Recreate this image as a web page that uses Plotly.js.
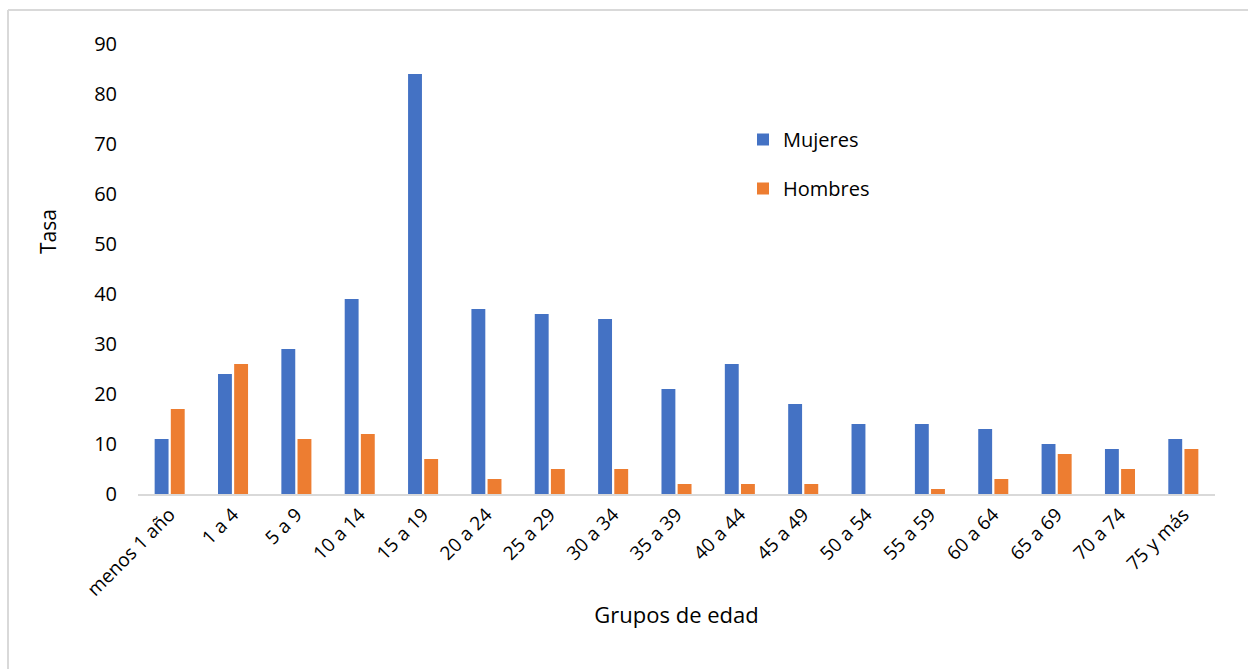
<!DOCTYPE html>
<html>
<head>
<meta charset="utf-8">
<script src="https://cdn.plot.ly/plotly-3.0.1.min.js"></script>
<style>
html,body{margin:0;padding:0;background:#fff;}
#chart{width:1248px;height:669px;}
</style>
</head>
<body>
<div id="chart"></div>
<script>
const categories = ["menos 1 año","1 a 4","5 a 9","10 a 14","15 a 19","20 a 24","25 a 29","30 a 34","35 a 39","40 a 44","45 a 49","50 a 54","55 a 59","60 a 64","65 a 69","70 a 74","75 y más"];
const mujeres = [11,24,29,39,84,37,36,35,21,26,18,14,14,13,10,9,11];
const hombres = [17,26,11,12,7,3,5,5,2,2,2,0,1,3,8,5,9];
const yTicks = [0,10,20,30,40,50,60,70,80,90];

const font = "Open Sans, Noto Sans, sans-serif";
const plotL = 138, plotR = 1215, plotT = 44, plotB = 494;
const W = 1248, H = 669;
const pw = plotR - plotL, ph = plotB - plotT;

const traces = [
  {type:"bar", name:"Mujeres", x:categories, y:mujeres, marker:{color:"#4472C4"}, legendgroup:"m"},
  {type:"bar", name:"Hombres", x:categories, y:hombres, marker:{color:"#ED7D31"}, legendgroup:"h"}
];

const layout = {
  width: W, height: H,
  margin: {l: plotL, r: W - plotR, t: plotT, b: H - plotB},
  paper_bgcolor: "#fff", plot_bgcolor: "#fff",
  font: {family: font, size: 18, color: "#000"},
  barmode: "group", bargap: 0.49, bargroupgap: 0.14,
  showlegend: true,
  legend: {x: (743 - plotL)/pw, y: (plotB - 120)/ph, xanchor: "left", yanchor: "top",
           font: {family: font, size: 20, color: "#000"}, tracegroupgap: 20,
           bgcolor: "rgba(0,0,0,0)", itemwidth: 30},
  xaxis: {type: "category", showgrid: false, showline: true, linecolor: "#d9d9d9", linewidth: 2,
          ticks: "", tickangle: -45, tickfont: {family: font, size: 19, color: "#000"},
          title: {text: "Grupos de edad", font: {family: font, size: 22, color: "#000"}, standoff: 7},
          zeroline: false, fixedrange: true},
  yaxis: {range: [0, 90], tickvals: yTicks, ticktext: yTicks.map(String), showgrid: false, showline: false,
          zeroline: false, ticks: "", ticklabelstandoff: 20,
          tickfont: {family: font, size: 20, color: "#000"}, fixedrange: true},
  annotations: [
    {text: "Tasa", xref: "paper", yref: "paper", x: (48 - plotL)/pw, y: (plotB - 232)/ph,
     textangle: -90, showarrow: false, font: {family: font, size: 21, color: "#000"},
     xanchor: "center", yanchor: "middle"}
  ],
  shapes: [
    {type: "line", xref: "paper", yref: "paper", x0: (8 - plotL)/pw, x1: (8 - plotL)/pw,
     y0: (plotB - 10)/ph, y1: (plotB - 700)/ph, line: {color: "#d9d9d9", width: 2}},
    {type: "line", xref: "paper", yref: "paper", x0: (8 - plotL)/pw, x1: (1260 - plotL)/pw,
     y0: (plotB - 10)/ph, y1: (plotB - 10)/ph, line: {color: "#d9d9d9", width: 2}}
  ]
};

Plotly.newPlot("chart", traces, layout, {displayModeBar: false, staticPlot: true});
</script>
</body>
</html>
